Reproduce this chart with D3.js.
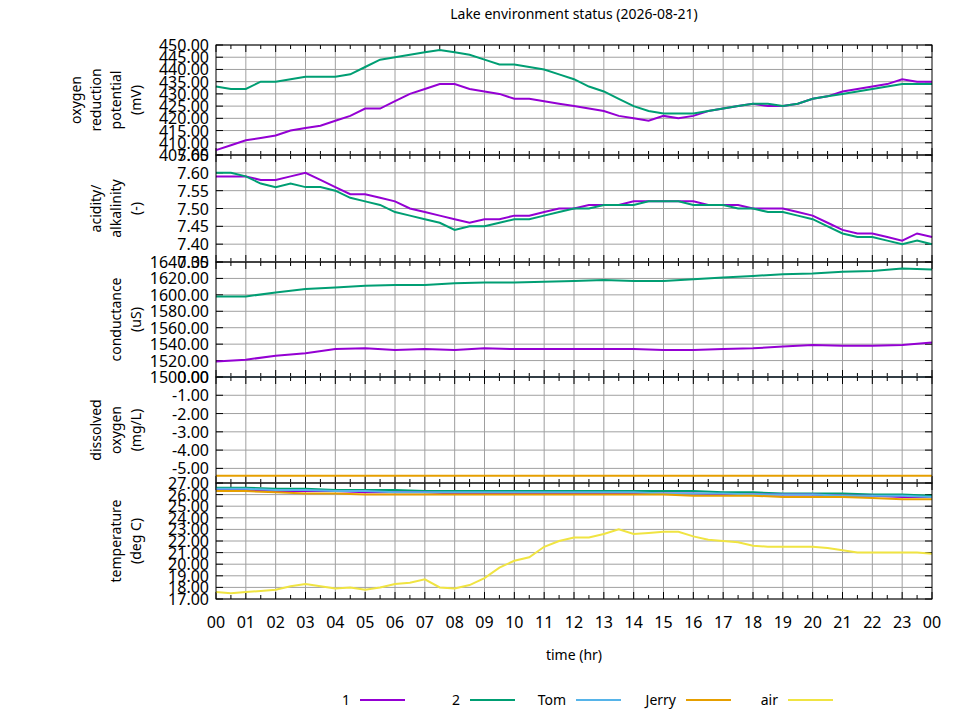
<!DOCTYPE html>
<html><head><meta charset="utf-8">
<script src="https://cdn.jsdelivr.net/npm/d3@7"></script>
<style>body{margin:0;background:#fff}text{font-family:"Noto Sans",sans-serif}</style>
</head><body><div id="chart"></div>
<script>
// half-hour samples 0..24
const hh = d3.range(0, 24.01, 0.5);
const hr = d3.range(0, 25);

const orp1 = [407,409,411,412,413,415,416,417,419,421,424,424,427,430,432,434,434,432,431,430,428,428,427,426,425,424,423,421,420,419,421,420,421,423,424,425,426,425,425,426,428,429,431,432,433,434,436,435,435];
const orp2 = [433,432,432,435,435,436,437,437,437,438,441,444,445,446,447,448,447,446,444,442,442,441,440,438,436,433,431,428,425,423,422,422,422,423,424,425,426,426,425,426,428,429,430,431,432,433,434,434,434];
const ph1 = [7.59,7.59,7.59,7.58,7.58,7.59,7.60,7.58,7.56,7.54,7.54,7.53,7.52,7.50,7.49,7.48,7.47,7.46,7.47,7.47,7.48,7.48,7.49,7.50,7.50,7.51,7.51,7.51,7.52,7.52,7.52,7.52,7.52,7.51,7.51,7.51,7.50,7.50,7.50,7.49,7.48,7.46,7.44,7.43,7.43,7.42,7.41,7.43,7.42];
const ph2 = [7.60,7.60,7.59,7.57,7.56,7.57,7.56,7.56,7.55,7.53,7.52,7.51,7.49,7.48,7.47,7.46,7.44,7.45,7.45,7.46,7.47,7.47,7.48,7.49,7.50,7.50,7.51,7.51,7.51,7.52,7.52,7.52,7.51,7.51,7.51,7.50,7.50,7.49,7.49,7.48,7.47,7.45,7.43,7.42,7.42,7.41,7.40,7.41,7.40];
const cond1 = [1519,1521,1526,1529,1534,1535,1533,1534,1533,1535,1534,1534,1534,1534,1534,1533,1533,1534,1535,1537,1539,1538,1538,1539,1542];
const cond2 = [1598,1598,1603,1607,1609,1611,1612,1612,1614,1615,1615,1616,1617,1618,1617,1617,1619,1621,1623,1625,1626,1628,1629,1632,1631];
const condTom = hr.map(() => 1500);
const doJerry = hr.map(() => -5.4);
const temp1 = [26.4,26.4,26.3,26.3,26.3,26.2,26.2,26.2,26.1,26.1,26.1,26.1,26.1,26.1,26.1,26.1,26.1,26.0,26.0,26.0,26.0,25.9,25.9,25.8,25.8];
const temp2 = [26.6,26.6,26.5,26.5,26.4,26.4,26.4,26.3,26.3,26.3,26.3,26.3,26.3,26.3,26.3,26.3,26.3,26.2,26.2,26.1,26.1,26.1,26.0,26.0,25.9];
const tempTom = [26.5,26.5,26.4,26.4,26.3,26.3,26.2,26.2,26.2,26.2,26.2,26.2,26.2,26.2,26.2,26.1,26.1,26.1,26.0,26.0,26.0,25.9,25.9,25.9,25.8];
const tempJerry = [26.3,26.3,26.2,26.1,26.1,26.0,26.0,26.0,26.0,26.0,26.0,26.0,26.0,26.0,26.0,26.0,25.9,25.9,25.9,25.8,25.8,25.8,25.7,25.6,25.6];
const air = [17.6,17.5,17.6,17.7,17.8,18.1,18.3,18.1,17.9,18.0,17.8,18.0,18.3,18.4,18.7,18.0,17.9,18.2,18.8,19.7,20.3,20.6,21.5,22.0,22.3,22.3,22.6,23.0,22.6,22.7,22.8,22.8,22.4,22.1,22.0,21.9,21.6,21.5,21.5,21.5,21.5,21.4,21.2,21.0,21.0,21.0,21.0,21.0,20.9];

const names = ["1", "2", "Tom", "Jerry", "air"];
const colors = ["#9400d3", "#009e73", "#56b4e9", "#e69f00", "#f0e442"];
const xLabels = hr.map(h => String(h % 24).padStart(2, "0"));

const panels = [
  {top: 45, bottom: 155, domain: [405, 450], step: 5, label: ["oxygen", "reduction", "potential", "(mV)"],
   series: [[hh, orp1, 0], [hh, orp2, 1]]},
  {top: 155, bottom: 262, domain: [7.35, 7.65], step: 0.05, label: ["acidity/", "alkalinity", "(-)"],
   series: [[hh, ph1, 0], [hh, ph2, 1]]},
  {top: 262, bottom: 377, domain: [1500, 1640], step: 20, label: ["conductance", "(uS)"],
   series: [[hr, cond1, 0], [hr, cond2, 1], [hr, condTom, 2]]},
  {top: 377, bottom: 483, domain: [-5.8, 0], step: 1, label: ["dissolved", "oxygen", "(mg/L)"],
   series: [[hr, doJerry, 3]]},
  {top: 483, bottom: 599, domain: [17, 27], step: 1, label: ["temperature", "(deg C)"],
   series: [[hr, temp2, 1], [hr, temp1, 0], [hr, tempTom, 2], [hr, tempJerry, 3], [hh, air, 4]]}
];

const left = 216, right = 932;
const svg = d3.select("#chart").append("svg").attr("width", 960).attr("height", 720);
const x = d3.scaleLinear().domain([0, 24]).range([left, right]);

svg.append("text").attr("x", 574).attr("y", 19).attr("text-anchor", "middle")
  .attr("font-size", 14).text("Lake environment status (2026-08-21)");

panels.forEach(p => {
  const y = d3.scaleLinear().domain(p.domain).range([p.bottom, p.top]);
  const g = svg.append("g");
  const yt = [];
  for (let v = Math.ceil(p.domain[0] / p.step - 1e-6) * p.step; v <= p.domain[1] + 1e-6; v += p.step) yt.push(+v.toFixed(4));
  // grid
  g.selectAll(".vg").data(d3.range(1, 24)).join("line")
    .attr("x1", d => x(d)).attr("x2", d => x(d)).attr("y1", p.top).attr("y2", p.bottom)
    .attr("stroke", "#a0a0a0").attr("stroke-width", 1);
  g.selectAll(".hg").data(yt).join("line")
    .attr("x1", left).attr("x2", right).attr("y1", d => y(d)).attr("y2", d => y(d))
    .attr("stroke", "#a0a0a0").attr("stroke-width", 1);
  // x ticks inward
  const xt = d3.range(0, 24.01, 0.5);
  g.selectAll(".xt").data(xt).join("path")
    .attr("d", d => { const l = d % 1 === 0 ? 7 : 4;
      return `M${x(d)},${p.top}v${l}M${x(d)},${p.bottom}v${-l}`; })
    .attr("stroke", "#000");
  g.selectAll(".yt").data(yt).join("path")
    .attr("d", d => `M${left},${y(d)}h7M${right},${y(d)}h-7`).attr("stroke", "#000");
  g.selectAll(".yl").data(yt).join("text")
    .attr("x", 209).attr("y", d => y(d) + 6).attr("text-anchor", "end").attr("font-size", 16)
    .text(d => d.toFixed(2));
  // axis label
  const cy = (p.top + p.bottom) / 2, n = p.label.length;
  p.label.forEach((t, i) => {
    const lx = 141 - (n - 1 - i) * 20;
    g.append("text").attr("transform", `translate(${lx},${cy}) rotate(-90)`)
      .attr("text-anchor", "middle").attr("font-size", 14).text(t);
  });
  // series
  const line = d3.line().x(d => x(d[0])).y(d => y(d[1]));
  p.series.forEach(([xs, vs, c]) => {
    g.append("path").datum(xs.map((t, i) => [t, vs[i]]))
      .attr("d", line).attr("fill", "none").attr("stroke", colors[c]).attr("stroke-width", 2);
  });
  g.append("rect").attr("x", left).attr("y", p.top).attr("width", right - left).attr("height", p.bottom - p.top)
    .attr("fill", "none").attr("stroke", "#000");
});

svg.selectAll(".xl").data(hr).join("text")
  .attr("x", d => x(d)).attr("y", 628).attr("text-anchor", "middle").attr("font-size", 16)
  .text((d, i) => xLabels[i]);
svg.append("text").attr("x", 574).attr("y", 660).attr("text-anchor", "middle").attr("font-size", 14).text("time (hr)");

const legX = [350, 460, 566, 676, 778];
names.forEach((n, i) => {
  svg.append("text").attr("x", legX[i]).attr("y", 705).attr("text-anchor", "end").attr("font-size", 14).text(n);
  svg.append("line").attr("x1", legX[i] + 10).attr("x2", legX[i] + 55).attr("y1", 700).attr("y2", 700)
    .attr("stroke", colors[i]).attr("stroke-width", 2);
});
</script></body></html>
